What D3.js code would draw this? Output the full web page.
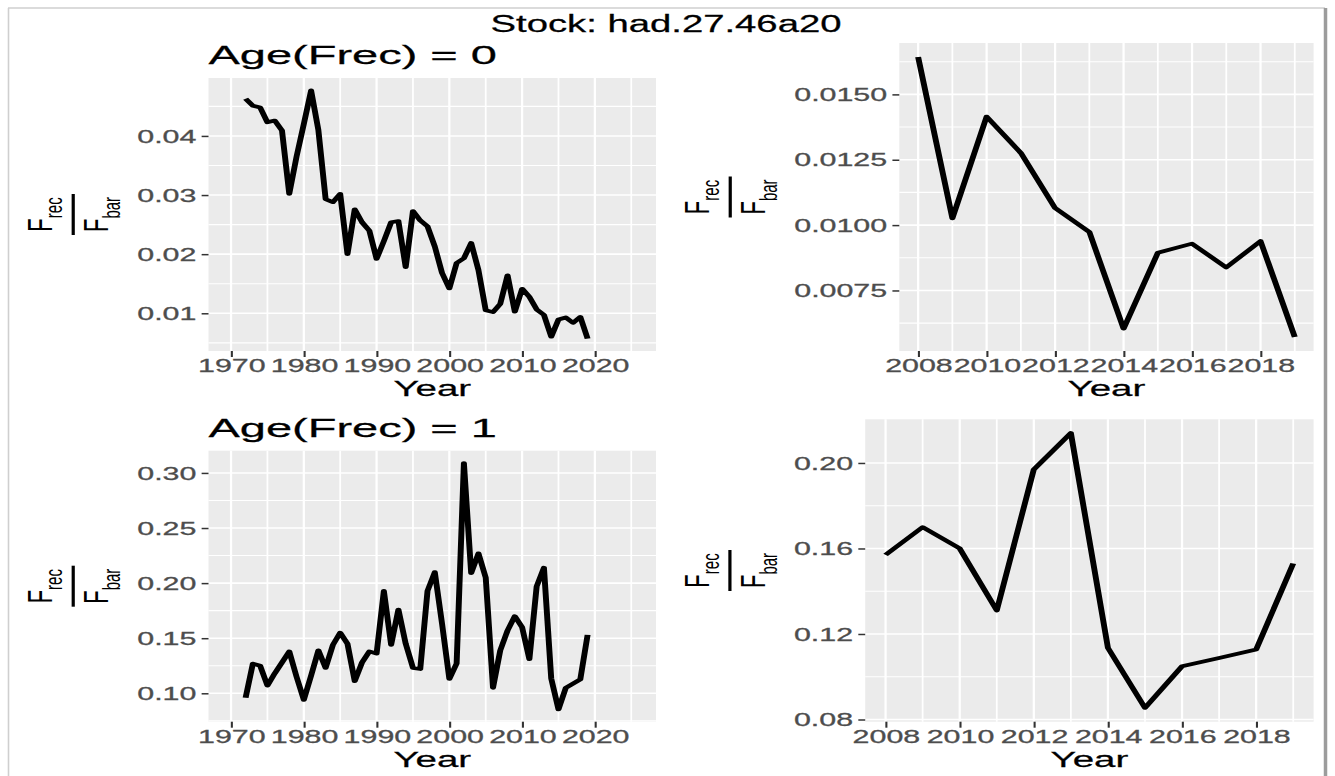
<!DOCTYPE html>
<html><head><meta charset="utf-8">
<script src="https://cdn.jsdelivr.net/npm/d3@7"></script>
<style>html,body{margin:0;padding:0;background:#fff;overflow:hidden}</style>
</head><body>
<svg id="c" width="1335" height="776"></svg>
<script>
// ---------------- data ----------------
const stockTitle = "Stock: had.27.46a20";
const facetTitles = ["Age(Frec) = 0", "Age(Frec) = 1"];
const axisTitleX = "Year";
const years = [1972,1973,1974,1975,1976,1977,1978,1979,1980,1981,1982,1983,1984,1985,1986,1987,
  1988,1989,1990,1991,1992,1993,1994,1995,1996,1997,1998,1999,2000,2001,2002,2003,2004,2005,
  2006,2007,2008,2009,2010,2011,2012,2013,2014,2015,2016,2017,2018,2019];
const age0Values = [0.0463,0.0451,0.0448,0.0423,0.0426,0.0409,0.0302,0.0365,0.0420,0.0477,0.0410,
  0.0293,0.0288,0.0302,0.0200,0.0276,0.0254,0.0240,0.0192,0.0222,0.0254,0.0256,0.0178,0.0273,
  0.0257,0.0247,0.0213,0.0168,0.0142,0.0185,0.0193,0.0219,0.0173,0.0105,0.0102,0.0116,
  0.01643,0.01026,0.01415,0.01276,0.01065,0.00974,0.00604,0.00894,0.00929,0.00838,0.00939,0.00572];
const age1Values = [0.096,0.127,0.125,0.107,0.118,0.128,0.138,0.115,0.094,0.116,0.139,0.123,0.144,
  0.155,0.145,0.111,0.128,0.138,0.136,0.193,0.144,0.176,0.145,0.123,0.122,0.193,0.210,0.163,
  0.113,0.127,0.309,0.209,0.227,0.205,0.105,0.139,
  0.157,0.170,0.160,0.131,0.197,0.214,0.1135,0.0854,0.1049,0.1088,0.1127,0.153];
const recentStart = 2008;
const xTicksLong = [1970,1980,1990,2000,2010,2020];
const xMinorLong = [1975,1985,1995,2005,2015,2025];
const xDomainLong = [1966.9, 2028.4];
const xTicksShort = [2008,2010,2012,2014,2016,2018];
const xMinorShort = [2009,2011,2013,2015,2017,2019];
const yTicksTL = [0.01,0.02,0.03,0.04];
const yMinorTL = [0.005,0.015,0.025,0.035,0.045];
const yTicksTR = [0.0075,0.0100,0.0125,0.0150];
const yMinorTR = [0.00625,0.00875,0.01125,0.01375,0.01625];
const yTicksBL = [0.10,0.15,0.20,0.25,0.30];
const yMinorBL = [0.075,0.125,0.175,0.225,0.275];
const yTicksBR = [0.08,0.12,0.16,0.20];
const yMinorBR = [0.10,0.14,0.18];

// ---------------- layout ----------------
const W = 1335, H = 776, SX = 1.6;   // reference is horizontally stretched
const FONT = "'Liberation Sans', Arial, Helvetica, sans-serif";
const svg = d3.select('#c').attr('viewBox', `0 0 ${W/SX} ${H}`).attr('preserveAspectRatio','none');

// frame
svg.append('line').attr('x1',8/SX).attr('x2',1325/SX).attr('y1',8).attr('y2',8)
  .attr('stroke','#cfcfcf').attr('stroke-width',1.6);
svg.append('line').attr('x1',8.5/SX).attr('x2',8.5/SX).attr('y1',8).attr('y2',H)
  .attr('stroke','#cfcfcf').attr('stroke-width',1.6/SX);
svg.append('line').attr('x1',1325.5/SX).attr('x2',1325.5/SX).attr('y1',8).attr('y2',H)
  .attr('stroke','#9c9c9c').attr('stroke-width',3.5/SX);

svg.append('text').attr('x',666/SX).attr('y',32).attr('text-anchor','middle')
  .attr('font-family',FONT).attr('font-size',23).attr('fill','#000')
  .attr('stroke','#000').attr('stroke-width',0.25)
  .attr('textLength',351/SX).attr('lengthAdjust','spacingAndGlyphs').text(stockTitle);

const recentYears = years.filter(y => y >= recentStart);
const age0Recent = age0Values.filter((v,i) => years[i] >= recentStart);
const age1Recent = age1Values.filter((v,i) => years[i] >= recentStart);
const expand = (ext, f) => { const p = (ext[1]-ext[0])*f; return [ext[0]-p, ext[1]+p]; };

const panels = [
  {box:[208.5,656,78,351], xs:years, vs:age0Values, xdom:xDomainLong, xt:xTicksLong, xm:xMinorLong,
   yt:yTicksTL, ym:yMinorTL, fmt:d3.format('.2f'), facet:facetTitles[0]},
  {box:[899.3,1313.6,43,351], xs:recentYears, vs:age0Recent, xdom:expand(d3.extent(recentYears),0.05),
   xt:xTicksShort, xm:xMinorShort, yt:yTicksTR, ym:yMinorTR, fmt:d3.format('.4f')},
  {box:[208.5,656,450.7,721.7], xs:years, vs:age1Values, xdom:xDomainLong, xt:xTicksLong, xm:xMinorLong,
   yt:yTicksBL, ym:yMinorBL, fmt:d3.format('.2f'), facet:facetTitles[1]},
  {box:[865.2,1313.6,419.3,721.7], xs:recentYears, vs:age1Recent, xdom:expand(d3.extent(recentYears),0.05),
   xt:xTicksShort, xm:xMinorShort, yt:yTicksBR, ym:yMinorBR, fmt:d3.format('.2f')}
];

panels.forEach(p => {
  const L = p.box[0]/SX, R = p.box[1]/SX, T = p.box[2], B = p.box[3];
  const x = d3.scaleLinear().domain(p.xdom).range([L,R]);
  const y = d3.scaleLinear().domain(expand(d3.extent(p.vs),0.05)).range([B,T]);
  const g = svg.append('g');
  g.append('rect').attr('x',L).attr('y',T).attr('width',R-L).attr('height',B-T).attr('fill','#ebebeb');
  const xIn = v => v >= p.xdom[0] && v <= p.xdom[1];
  const yIn = v => v >= y.domain()[0] && v <= y.domain()[1];
  // minor grid
  g.selectAll('.hm').data(p.ym.filter(yIn)).join('line').attr('x1',L).attr('x2',R)
    .attr('y1',d=>y(d)).attr('y2',d=>y(d)).attr('stroke','#fff').attr('stroke-width',1.1);
  g.selectAll('.vm').data(p.xm.filter(xIn)).join('line').attr('y1',T).attr('y2',B)
    .attr('x1',d=>x(d)).attr('x2',d=>x(d)).attr('stroke','#fff').attr('stroke-width',1.1);
  // major grid
  g.selectAll('.hM').data(p.yt).join('line').attr('x1',L).attr('x2',R)
    .attr('y1',d=>y(d)).attr('y2',d=>y(d)).attr('stroke','#fff').attr('stroke-width',1.6);
  g.selectAll('.vM').data(p.xt.filter(xIn)).join('line').attr('y1',T).attr('y2',B)
    .attr('x1',d=>x(d)).attr('x2',d=>x(d)).attr('stroke','#fff').attr('stroke-width',1.4);
  // line
  const line = d3.line().x((d,i)=>x(p.xs[i])).y(d=>y(d));
  g.append('path').datum(p.vs).attr('d',line).attr('fill','none').attr('stroke','#000')
    .attr('stroke-width',3.7).attr('stroke-linejoin','round').attr('stroke-linecap','butt');
  // axes
  const ya = g.append('g').attr('transform',`translate(${L},0)`)
    .call(d3.axisLeft(y).tickValues(p.yt).tickFormat(p.fmt).tickSize(4.3).tickPadding(3.3));
  const xa = g.append('g').attr('transform',`translate(0,${B})`)
    .call(d3.axisBottom(x).tickValues(p.xt).tickFormat(d3.format('d')).tickSize(6).tickPadding(1.8));
  [ya,xa].forEach(a => {
    a.select('.domain').remove();
    a.selectAll('line').attr('stroke','#333').attr('stroke-width',1.5);
    a.selectAll('text').attr('font-family',FONT).attr('font-size',19).attr('fill','#4d4d4d')
      .attr('stroke','#4d4d4d').attr('stroke-width',0.3);
  });
  xa.selectAll('line').attr('stroke-width',1.3);
  // x title
  g.append('text').attr('x',(L+R)/2).attr('y',B+45).attr('text-anchor','middle')
    .attr('font-family',FONT).attr('font-size',22).attr('fill','#000')
    .attr('stroke','#000').attr('stroke-width',0.25)
    .attr('textLength',77.7/SX).attr('lengthAdjust','spacingAndGlyphs').text(axisTitleX);
  // y title: F_rec / F_bar
  const maxW = d3.max(ya.selectAll('text').nodes(), n => n.getComputedTextLength());
  const barX = L - 4.3 - 3.3 - maxW - 40;
  const yl = g.append('g').attr('transform',`translate(${barX},${(T+B)/2}) rotate(-90)`)
    .attr('font-family',FONT).attr('fill','#000');
  const num = yl.append('text').attr('x',0).attr('y',-13.3).attr('text-anchor','middle').attr('font-size',22);
  num.append('tspan').text('F');
  num.append('tspan').attr('dy',6.3).attr('font-size',15).text('rec');
  yl.append('line').attr('x1',-20.5).attr('x2',20.5).attr('y1',0).attr('y2',0)
    .attr('stroke','#000').attr('stroke-width',2);
  const den = yl.append('text').attr('x',0).attr('y',22).attr('text-anchor','middle').attr('font-size',22);
  den.append('tspan').text('F');
  den.append('tspan').attr('dy',7.4).attr('font-size',15).text('bar');
  // facet title
  if (p.facet) {
    g.append('text').attr('x',L).attr('y',T-13.5).attr('font-family',FONT).attr('font-size',26)
      .attr('fill','#000').attr('stroke','#000').attr('stroke-width',0.25)
      .attr('textLength',288.5/SX).attr('lengthAdjust','spacingAndGlyphs').text(p.facet);
  }
});
</script>
</body></html>
